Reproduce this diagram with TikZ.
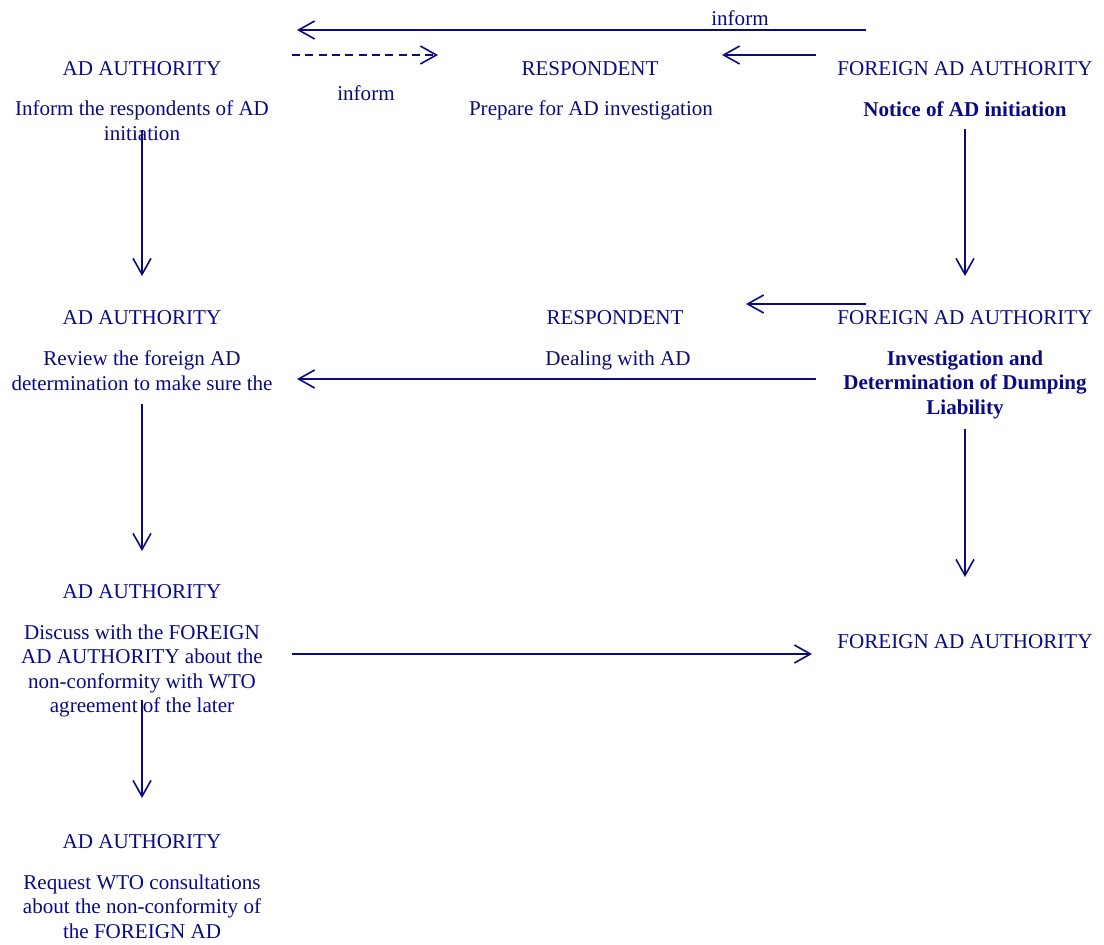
\documentclass[tikz,border=0pt]{standalone}
\usepackage{fontspec}
\setmainfont{Liberation Serif}
\usetikzlibrary{arrows.meta}
\definecolor{adblue}{RGB}{10,10,130}
\begin{document}
\begin{tikzpicture}[x=0.75pt,y=-0.75pt,
    lbl/.style={anchor=north, inner sep=0pt, align=center, text=adblue,
        font=\fontsize{15.8}{18.4}\selectfont},
    bold lbl/.style={lbl, font=\fontsize{15.8}{18.4}\selectfont\bfseries},
    flow/.style={draw=adblue, line width=1.2pt, -{Straight Barb[length=12pt,width=13.5pt]}}]
    \useasboundingbox (0,0) rectangle (1104,945);

    % first row
    \node[lbl] (auth1) at (142,61) {AD AUTHORITY};
    \node[lbl] (inform1) at (142,100.5) {Inform the respondents of AD\\initiation};
    \node[lbl] (resp1) at (590,61) {RESPONDENT};
    \node[lbl] (prep1) at (591,100.5) {Prepare for AD investigation};
    \node[lbl] (fa1) at (965,61) {FOREIGN AD AUTHORITY};
    \node[bold lbl] (notice1) at (965,101.5) {Notice of AD initiation};
    \node[lbl] (infA) at (740,10.5) {inform};
    \node[lbl] (infB) at (366,85.5) {inform};

    % second row
    \node[lbl] (auth2) at (142,310) {AD AUTHORITY};
    \node[lbl] (review2) at (142,350.5) {Review the foreign AD\\determination to make sure the};
    \node[lbl] (resp2) at (615,310) {RESPONDENT};
    \node[lbl] (deal2) at (618,350.5) {Dealing with AD};
    \node[lbl] (fa2) at (965,310) {FOREIGN AD AUTHORITY};
    \node[bold lbl] (inv2) at (965,350.5) {Investigation and\\Determination of Dumping\\Liability};

    % third row
    \node[lbl] (auth3) at (142,584) {AD AUTHORITY};
    \node[lbl] (discuss3) at (142,624.5) {Discuss with the FOREIGN\\AD AUTHORITY about the\\non-conformity with WTO\\agreement of the later};
    \node[lbl] (fa3) at (965,634) {FOREIGN AD AUTHORITY};

    % fourth row
    \node[lbl] (auth4) at (142,834) {AD AUTHORITY};
    \node[lbl] (request4) at (142,874.5) {Request WTO consultations\\about the non-conformity of\\the FOREIGN AD};

    % ends of the horizontal arrows
    \coordinate (infAs) at (866,30);
    \coordinate (infAe) at (297,30);
    \coordinate (noteS) at (816,55);
    \coordinate (noteE) at (722,55);
    \coordinate (infBs) at (292,55);
    \coordinate (infBe) at (438,55);
    \coordinate (dealS) at (866,304);
    \coordinate (dealE) at (746,304);
    \coordinate (detS) at (816,379);
    \coordinate (detE) at (297,379);
    \coordinate (discS) at (292,654);
    \coordinate (discE) at (812,654);

    \draw[flow] (infAs) -- (infAe);
    \draw[flow] (noteS) -- (noteE);
    \draw[flow, dash pattern=on 6pt off 4pt] (infBs) -- (infBe);
    \draw[flow] (dealS) -- (dealE);
    \draw[flow] (detS) -- (detE);
    \draw[flow] (discS) -- (discE);

    % vertical arrows
    \draw[flow, shorten <=-8.3pt, shorten >=25.5pt] (inform1.south) -- (auth2.north);
    \draw[flow, shorten <=9pt, shorten >=25.5pt] (notice1.south) -- (fa2.north);
    \draw[flow, shorten <=9.75pt, shorten >=24.75pt] (review2.south) -- (auth3.north);
    \draw[flow, shorten <=7pt, shorten >=42.75pt] (inv2.south) -- (fa3.north);
    \draw[flow, shorten <=-13pt, shorten >=27pt] (discuss3.south) -- (auth4.north);
\end{tikzpicture}
\end{document}
